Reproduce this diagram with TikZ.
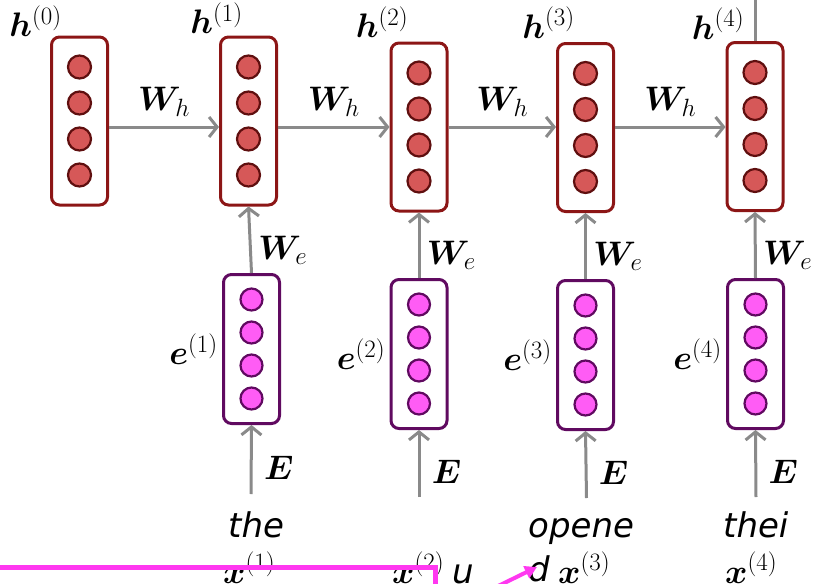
\RequirePackage{fix-cm}
\documentclass[tikz,border=0pt]{standalone}
\usepackage{fontspec}
\usepackage{bm}
\usetikzlibrary{arrows.meta,positioning}
\newfontfamily\wordfont{DejaVu Sans}
\DeclareMathSizes{34}{34}{25}{18}
\definecolor{hidline}{RGB}{140,22,22}
\definecolor{hidfill}{RGB}{214,88,88}
\definecolor{hiddot}{RGB}{95,15,15}
\definecolor{embline}{RGB}{96,10,96}
\definecolor{embfill}{RGB}{255,92,245}
\definecolor{conngray}{RGB}{138,138,138}
\definecolor{markpink}{RGB}{255,56,240}
\begin{document}
\begin{tikzpicture}[x=1pt,y=-1pt,every node/.style={font=\fontsize{34}{40}\selectfont},
  hbox/.style={draw=hidline,line width=3pt,rounded corners=8pt,minimum width=56pt,minimum height=168pt,inner sep=0pt},
  ebox/.style={draw=embline,line width=3pt,rounded corners=8pt,minimum width=56pt,minimum height=149pt,inner sep=0pt},
  hdot/.style={circle,draw=hiddot,fill=hidfill,line width=2.2pt,minimum size=23pt,inner sep=0pt},
  edot/.style={circle,draw=embline,fill=embfill,line width=2.2pt,minimum size=22pt,inner sep=0pt},
  conn/.style={draw=conngray,line width=3pt,-{Straight Barb[length=8pt,width=20pt]}}]
\clip (0,0) rectangle (815,584);
\node[hbox] (h0) at (79.5,121) {};
\node[hbox] (h1) at (248.5,121) {};
\node[hbox] (h2) at (419,127) {};
\node[hbox] (h3) at (585.5,127.5) {};
\node[hbox] (h4) at (755,126.5) {};
\node[ebox] (e1) at (251.5,349) {};
\node[ebox] (e2) at (419,354) {};
\node[ebox] (e3) at (585.5,355) {};
\node[ebox] (e4) at (755.5,354) {};
\foreach \n in {0,...,4}
  \foreach \i/\k in {1/54,2/18,3/-18,4/-54}
    \node[hdot] (h\n-\i) at ([yshift=\k pt]h\n.center) {};
\foreach \n in {1,...,4}
  \foreach \i/\k in {1/49.5,2/16.5,3/-16.5,4/-49.5}
    \node[edot] (e\n-\i) at ([yshift=\k pt]e\n.center) {};
\foreach \n/\dx/\dy in {0/12/-1,1/24/2,2/19/4,3/19/4,4/19/2}
  \node[anchor=base east,inner sep=0pt] (lh\n) at ([xshift=\dx pt,yshift=\dy pt]h\n.north west) {$\bm{h}^{(\n)}$};
\foreach \n in {1,...,4}
  \node[left=4pt of e\n,inner sep=0pt] (le\n) {$\bm{e}^{(\n)}$};
\foreach \a/\b in {0/1,1/2,2/3,3/4}
  \draw[conn] (h\a.east |- h2.west) -- (h\b.west |- h2.west) node[midway,above=6pt] {$\bm{W}_h$};
\foreach \n in {1,...,4}
  \draw[conn] (e\n.north) -- (h\n.south) node[pos=0.34,right=3pt] {$\bm{W}_e$};
\coordinate (b1) at (251,494);
\coordinate (b2) at (419,497);
\coordinate (b3) at (586.5,498);
\coordinate (b4) at (756,497);
\foreach \n in {1,...,4}
  \draw[conn] (b\n) -- (e\n.south) node[pos=0.38,right=8pt] {$\bm{E}$};
\coordinate (top4) at (755,-10);
\draw[draw=conngray,line width=3pt] (h4.north) -- (top4);
\node[anchor=base west,inner sep=0pt] (w1) at (228,537) {\wordfont\itshape the};
\node[anchor=base west,inner sep=0pt] (w3) at (528,537) {\wordfont\itshape opene};
\node[anchor=base west,inner sep=0pt] (w4) at (723,537) {\wordfont\itshape thei};
\node[anchor=base west,inner sep=0pt] (u2) at (452,583) {\wordfont\itshape u};
\node[anchor=base west,inner sep=0pt] (d3) at (528,581) {\wordfont\itshape d};
\node[anchor=base west,inner sep=0pt] (x1) at (223,583) {$\bm{x}^{(1)}$};
\node[anchor=base west,inner sep=0pt] (x2) at (392,583) {$\bm{x}^{(2)}$};
\node[anchor=base west,inner sep=0pt] (x3) at (558,583) {$\bm{x}^{(3)}$};
\node[anchor=base west,inner sep=0pt] (x4) at (725,583) {$\bm{x}^{(4)}$};
\draw[markpink,line width=5pt] (0,567.5) -- (435,567.5) -- (435,600);
\coordinate (tail) at (490,590);
\coordinate (tip) at (537,567);
\draw[markpink,line width=4pt,-{Triangle[length=12pt,width=13pt]}] (tail) -- (tip);
\end{tikzpicture}
\end{document}
